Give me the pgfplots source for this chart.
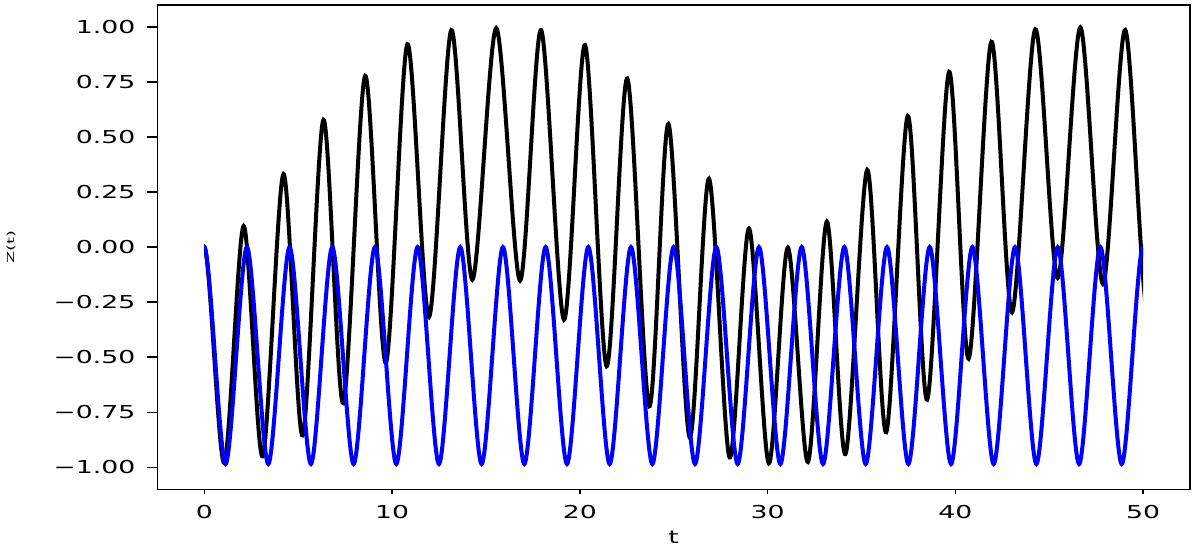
\documentclass[border=0pt]{standalone}
\usepackage{fontspec}
\setmainfont{DejaVu Sans}
\newfontfamily\tickfont{DejaVu Sans}[FakeStretch=1.5]
\usepackage{graphicx}
\usepackage{pgfplots}
\pgfplotsset{compat=1.18}
\usetikzlibrary{calc}

\newcommand\tfont{\tickfont\fontsize{13.35pt}{16pt}\selectfont}

\begin{document}
\begin{tikzpicture}
% frame and ticks (labels are set below, at measured offsets)
\begin{axis}[
  name=main,
  at={(0,0)}, anchor=south west,
  scale only axis, width=774.525pt, height=363.225pt,
  xmin=-2.5, xmax=52.5, ymin=-1.1, ymax=1.1,
  xtick={0,10,20,30,40,50}, xticklabels={},
  ytick={-1,-0.75,-0.5,-0.25,0,0.25,0.5,0.75,1}, yticklabels={},
  xtick pos=lower, ytick pos=left,
  tick align=outside,
  xtick style={/pgfplots/major tick length=3.75pt},
  ytick style={/pgfplots/major tick length=7.5pt},
  major tick style={line width=1.1pt, black},
  axis line style={line width=1.1pt, black},
]
\end{axis}

% curves, clipped to 0 <= t <= 50
\begin{axis}[
  at={($(main.south west)+(35.206pt,0)$)}, anchor=south west,
  scale only axis, width=704.11pt, height=363.225pt,
  xmin=0, xmax=50, ymin=-1.1, ymax=1.1,
  hide axis, clip=true,
]
\addplot[black, line width=3pt, smooth] coordinates {
(-1.06,-0.98)(0,0)(1.06,-0.98)(2.10,0.096)(3.11,-0.950)(4.22,0.331)
(5.24,-0.855)(6.35,0.578)(7.40,-0.708)(8.57,0.778)(9.67,-0.526)
(10.82,0.922)(11.97,-0.317)(13.16,0.986)(14.28,-0.148)(15.55,0.995)
(16.82,-0.152)(17.94,0.986)(19.16,-0.330)(20.28,0.918)(21.43,-0.541)
(22.53,0.766)(23.70,-0.723)(24.72,0.559)(25.85,-0.864)(26.88,0.311)
(27.98,-0.955)(29.01,0.084)(30.07,-0.982)(31.08,-0.002)(32.15,-0.976)
(33.16,0.116)(34.15,-0.940)(35.31,0.351)(36.32,-0.841)(37.47,0.596)
(38.50,-0.693)(39.67,0.796)(40.71,-0.507)(41.92,0.933)(43.02,-0.296)
(44.26,0.990)(45.45,-0.140)(46.66,0.998)(47.86,-0.167)(49.05,0.986)
(50.25,-0.30)(51.45,0.98)
};
\addplot[blue, line width=3pt, smooth] coordinates {
(-1.136,-0.985)(0,0)(1.136,-0.985)(2.273,0)(3.409,-0.985)(4.545,0)
(5.682,-0.985)(6.818,0)(7.955,-0.985)(9.091,0)(10.227,-0.985)
(11.364,0)(12.5,-0.985)(13.636,0)(14.773,-0.985)(15.909,0)
(17.045,-0.985)(18.182,0)(19.318,-0.985)(20.455,0)(21.591,-0.985)
(22.727,0)(23.864,-0.985)(25.0,0)(26.136,-0.985)(27.273,0)
(28.409,-0.985)(29.545,0)(30.682,-0.985)(31.818,0)(32.955,-0.985)
(34.091,0)(35.227,-0.985)(36.364,0)(37.5,-0.985)(38.636,0)
(39.773,-0.985)(40.909,0)(42.045,-0.985)(43.182,0)(44.318,-0.985)
(45.455,0)(46.591,-0.985)(47.727,0)(48.864,-0.985)(50.0,0)
(51.136,-0.985)(52.273,0)
};
\end{axis}

% tick labels
\foreach \v/\l in {-1/−1.00,-0.75/−0.75,-0.5/−0.50,-0.25/−0.25,0/0.00,
                   0.25/0.25,0.5/0.50,0.75/0.75,1/1.00}
  \node[anchor=east, inner sep=0pt, font=\tfont]
    at ($(main.south west)+(-16.2pt,{(181.61+165.10*\v)*1pt})$) {\l};
\foreach \t in {0,10,20,30,40,50}
  \node[anchor=north, inner sep=0pt, font=\tfont]
    at ($(main.south west)+({(\t+2.5)*14.0823pt},-11.8pt)$) {\t};

% axis labels
\node[anchor=base, inner sep=0pt, font=\tfont]
  at ($(main.south west)+(387.26pt,-40.3pt)$) {t};
\node[rotate=90, inner sep=0pt]
  at ($(main.south west)+(-109.7pt,181.6pt)$) {\resizebox*{24.75pt}{6.5pt}{Z(t)}};

% page size as in the reference
\path (main.south west) ++(-117.98pt,-45.53pt) rectangle ++(897pt,412.5pt);
\end{tikzpicture}
\end{document}
